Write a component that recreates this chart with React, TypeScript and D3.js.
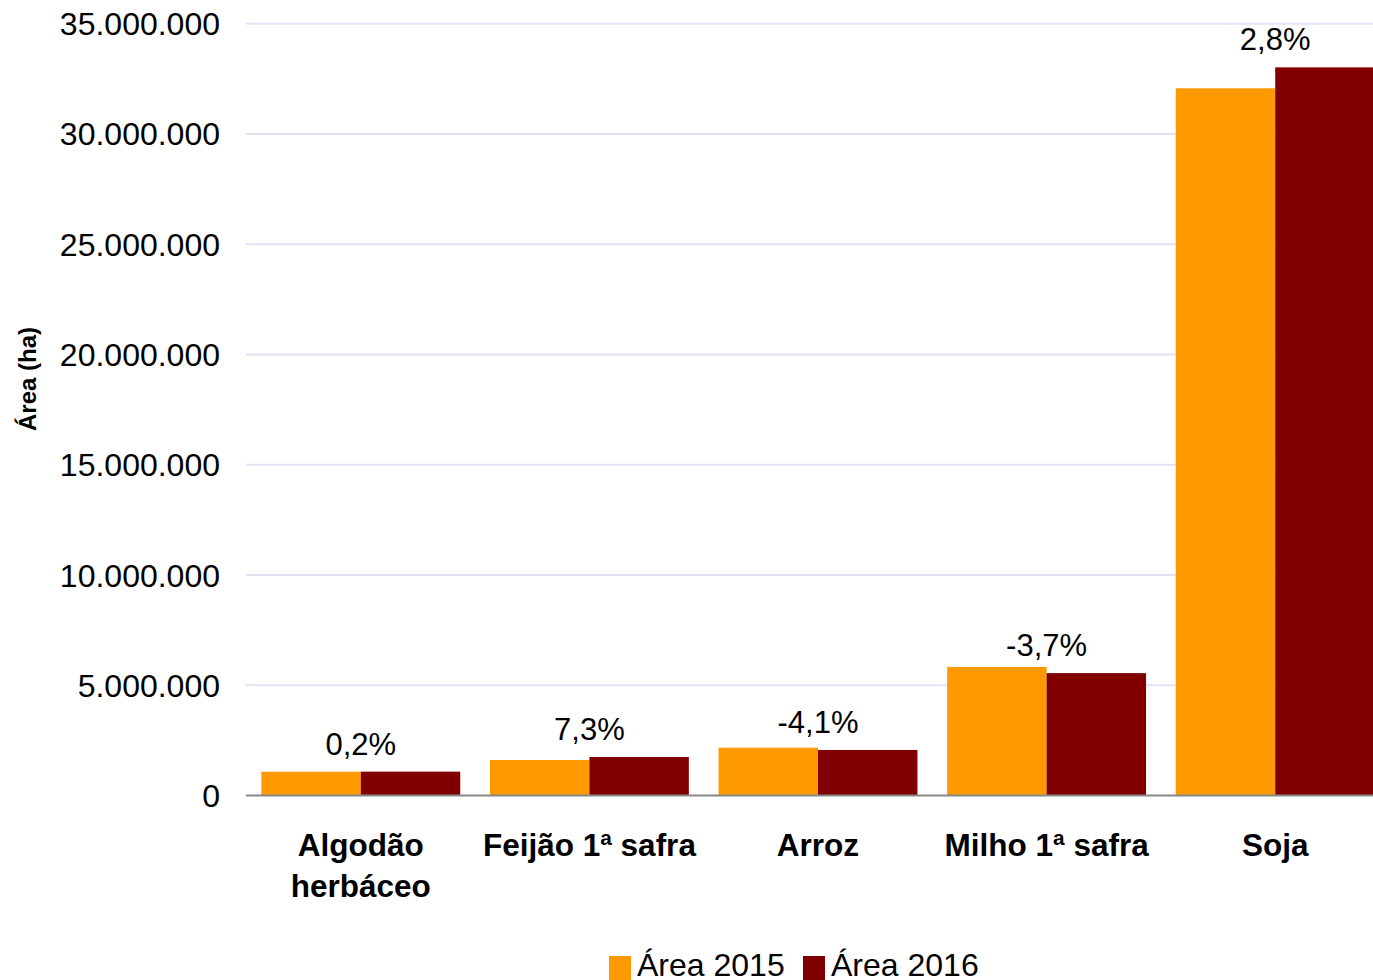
import React from "react";
import * as d3 from "d3";

const categories = ["Algodão herbáceo", "Feijão 1ª safra", "Arroz", "Milho 1ª safra", "Soja"];
const categoryLines = [["Algodão", "herbáceo"], ["Feijão 1ª safra"], ["Arroz"], ["Milho 1ª safra"], ["Soja"]];
const series = ["Área 2015", "Área 2016"];
const area2015 = [1080000, 1610000, 2170000, 5830000, 32070000];
const area2016 = [1082000, 1745000, 2065000, 5550000, 33020000];
const changeLabels = ["0,2%", "7,3%", "-4,1%", "-3,7%", "2,8%"];
const yTicks = [0, 5000000, 10000000, 15000000, 20000000, 25000000, 30000000, 35000000];
const colors = ["#FF9900", "#800000"];

const W = 1373;
const H = 980;
const FONT = "'Liberation Sans', Arial, sans-serif";

export default function App() {
  const x = d3
    .scaleBand<string>()
    .domain(categories)
    .range([246.5, 1389.5])
    .paddingInner(0.13)
    .paddingOuter(0.065);
  const xs = d3.scaleBand<string>().domain(series).range([0, x.bandwidth()]);
  const y = d3.scaleLinear().domain([0, 35000000]).range([795.5, 23.7]);
  const fmt = (v: number) => d3.format(",")(v).replace(/,/g, ".");
  const vals = [area2015, area2016];

  return (
    <svg
      width={W}
      height={H}
      style={{ position: "absolute", left: 0, top: 0, display: "block", background: "#fff" }}
      fontFamily={FONT}
    >
      {yTicks.map((t) => (
        <g key={t}>
          {t > 0 && (
            <line x1={246} x2={W} y1={y(t)} y2={y(t)} stroke="#e2e2f6" strokeWidth={2} />
          )}
          <text x={220} y={y(t)} dy="0.36em" textAnchor="end" fontSize={32} fill="#000">
            {fmt(t)}
          </text>
        </g>
      ))}
      {categories.map((c, i) => (
        <g key={c}>
          {series.map((s, j) => (
            <rect
              key={s}
              x={(x(c) as number) + (xs(s) as number)}
              y={y(vals[j][i])}
              width={xs.bandwidth()}
              height={y(0) - y(vals[j][i])}
              fill={colors[j]}
            />
          ))}
          <text
            x={(x(c) as number) + x.bandwidth() / 2}
            y={y(area2016[i]) - 17}
            textAnchor="middle"
            fontSize={31}
            fill="#000"
          >
            {changeLabels[i]}
          </text>
          {categoryLines[i].map((ln, k) => (
            <text
              key={k}
              x={(x(c) as number) + x.bandwidth() / 2}
              y={856 + k * 41}
              textAnchor="middle"
              fontSize={31.5}
              fontWeight="bold"
              fill="#000"
            >
              {ln}
            </text>
          ))}
        </g>
      ))}
      <line x1={246} x2={W} y1={y(0)} y2={y(0)} stroke="#888" strokeWidth={2} />
      <text
        transform={`translate(36,379) rotate(-90)`}
        textAnchor="middle"
        fontSize={24}
        fontWeight="bold"
        fill="#000"
      >
        Área (ha)
      </text>
      {series.map((s, j) => {
        const lx = [609, 803][j];
        return (
          <g key={s}>
            <rect x={lx} y={956} width={22} height={24} fill={colors[j]} />
            <text x={lx + 28} y={976} fontSize={32} fill="#000">
              {s}
            </text>
          </g>
        );
      })}
    </svg>
  );
}
